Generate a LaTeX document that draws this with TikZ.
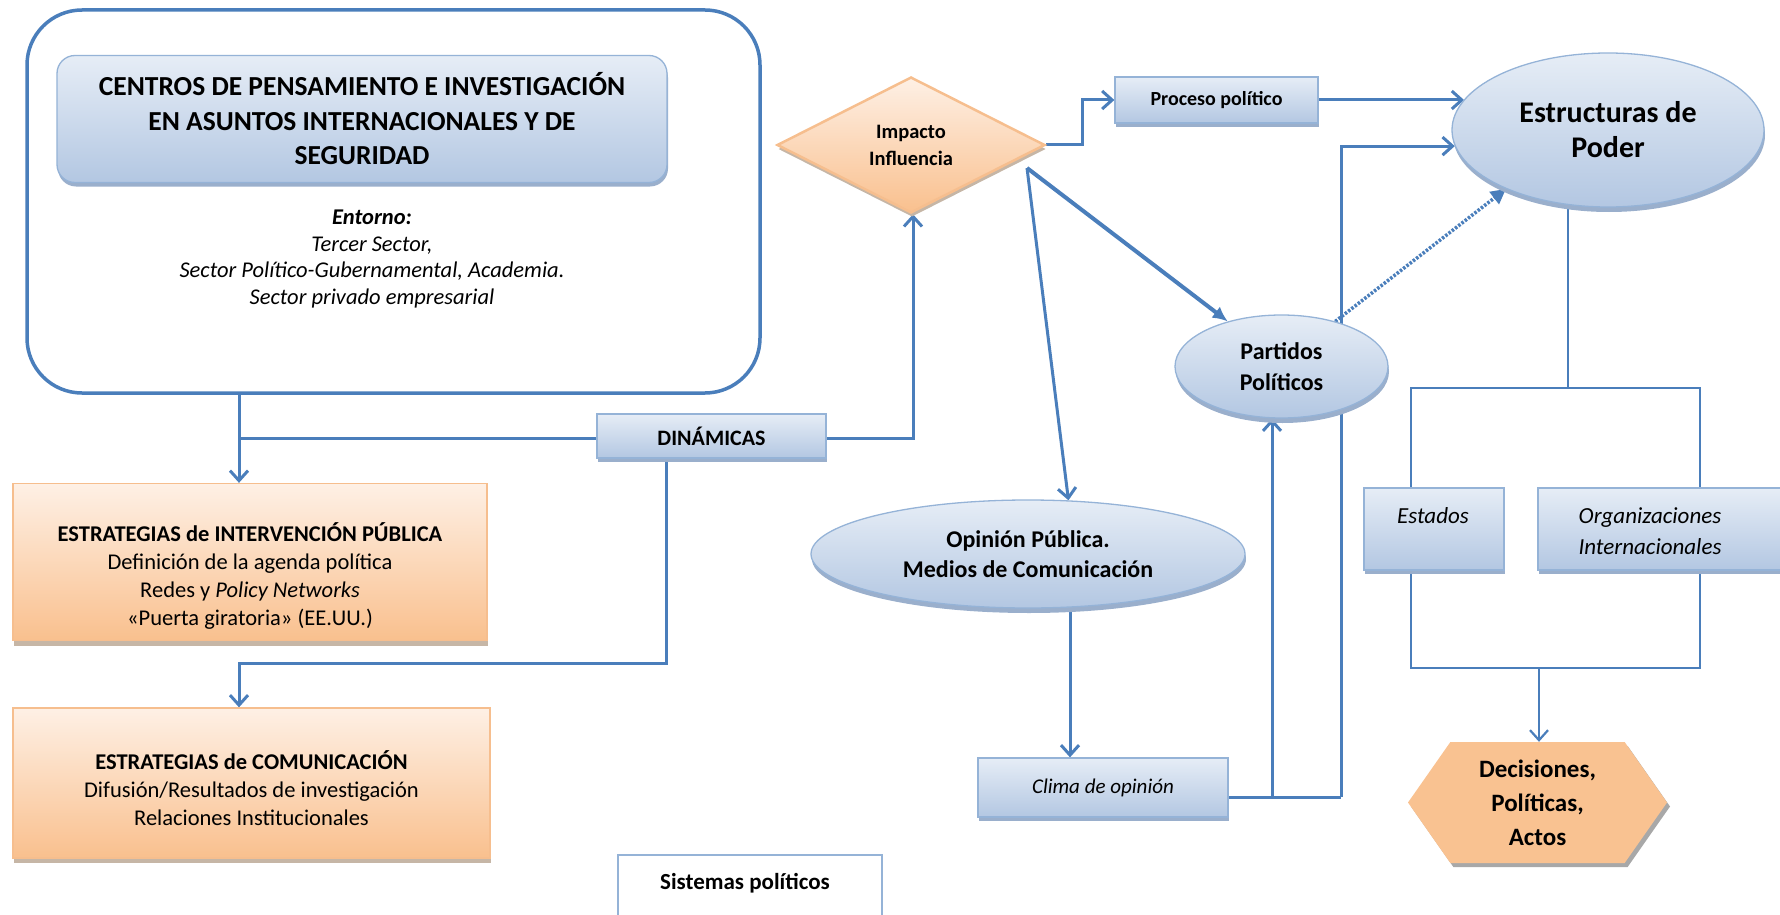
\documentclass[tikz,border=0pt]{standalone}
\usepackage{fontspec}
\setmainfont{Carlito}
\usetikzlibrary{shapes.geometric,shapes.symbols,arrows.meta,shadows,calc}
\pgfdeclarelayer{background}
\pgfsetlayers{background,main}
\definecolor{lineblue}{HTML}{4A7EBB}
\definecolor{bordblue}{HTML}{95B3D7}
\definecolor{fillTop}{HTML}{E6EDF6}
\definecolor{fillBot}{HTML}{B3C7E2}
\definecolor{shblue}{HTML}{9AAFCC}
\definecolor{orTop}{HTML}{FEF0E5}
\definecolor{orBot}{HTML}{F9C08E}
\definecolor{orBord}{HTML}{F6BE8E}
\definecolor{hexfill}{HTML}{F9C291}
\definecolor{shor}{HTML}{C6B6A6}
\definecolor{shgray}{HTML}{A8A8A8}
\tikzset{
  conn/.style={draw=lineblue, line width=3pt},
  tconn/.style={draw=lineblue, line width=2.2pt},
  arr/.style={-{Straight Barb[length=10pt,width=18pt]}},
  bluebox/.style={draw=bordblue, line width=1.3pt, top color=fillTop, bottom color=fillBot,
    drop shadow={shadow xshift=1pt, shadow yshift=-4pt, fill=shblue, opacity=1}, inner sep=0pt},
  blueell/.style={ellipse, draw=bordblue, line width=1.3pt, top color=fillTop, bottom color=fillBot,
    drop shadow={shadow xshift=1pt, shadow yshift=-5pt, fill=shblue, opacity=1}, inner sep=0pt},
  orbox/.style={draw=orBord, line width=1.3pt, top color=orTop, bottom color=orBot,
    drop shadow={shadow xshift=1pt, shadow yshift=-5pt, fill=shor, opacity=1}, inner sep=0pt},
  txt/.style={align=center, inner sep=0pt}
}
\begin{document}
\begin{tikzpicture}[x=1pt,y=-1pt]
\useasboundingbox (0,0) rectangle (1780,915);

% outer box
\node[draw=lineblue, line width=3.5pt, rounded corners=55pt, minimum width=733pt, minimum height=383pt, fill=white] (outer) at (393.5,201.5) {};
\node[bluebox, rounded corners=18pt, minimum width=610pt, minimum height=127pt, align=center,
  font=\fontsize{27.5}{34.5}\selectfont\bfseries] (title) at (362,119)
  {CENTROS DE PENSAMIENTO E INVESTIGACIÓN\\EN ASUNTOS INTERNACIONALES Y DE\\SEGURIDAD};
\node[txt, font=\fontsize{22.5}{26.7}\selectfont\itshape] (ent) at (372,259)
  {\textbf{Entorno:}\\Tercer Sector,\\Sector Político-Gubernamental, Academia.\\Sector privado empresarial};

% strategies
\node[orbox, minimum width=474pt, minimum height=157pt] (estr1) at (250,562) {};
\node[txt, font=\fontsize{22.5}{28}\selectfont] (estr1t) at (250,576)
  {\textbf{ESTRATEGIAS de INTERVENCIÓN PÚBLICA}\\Definición de la agenda política\\Redes y \textit{Policy Networks}\\«Puerta giratoria» (EE.UU.)};
\node[orbox, minimum width=477pt, minimum height=150pt] (estr2) at (251.5,783) {};
\node[txt, font=\fontsize{22.5}{28}\selectfont] (estr2t) at (251.5,788)
  {\textbf{ESTRATEGIAS de COMUNICACIÓN}\\Difusión/Resultados de investigación\\Relaciones Institucionales};

\node[bluebox, minimum width=229pt, minimum height=44pt, font=\fontsize{22}{26}\selectfont\bfseries] (din) at (711.5,436) {DINÁMICAS};

\node[draw=bordblue, line width=1.2pt, fill=white, minimum width=264pt, minimum height=100pt] (sist) at (750,905) {};
\node[txt, font=\fontsize{23}{26}\selectfont\bfseries] (sistt) at (745,883) {Sistemas políticos};

% right part
\node[diamond, aspect=2, inner sep=0pt, minimum width=268pt, minimum height=136pt, draw=orBord, line width=2.5pt,
  top color=orTop, bottom color=orBot, drop shadow={shadow xshift=1pt, shadow yshift=-4pt, fill=shor, opacity=1},
  align=center, font=\fontsize{20.5}{27}\selectfont\bfseries] (imp) at (911,145) {Impacto\\Influencia};

\node[bluebox, minimum width=203pt, minimum height=46pt, font=\fontsize{20}{24}\selectfont\bfseries] (proc) at (1216.5,100) {Proceso político};

\node[blueell, minimum width=312pt, minimum height=154pt, align=center, font=\fontsize{30}{35}\selectfont\bfseries] (est) at (1608,130) {Estructuras de\\Poder};

\node[blueell, minimum width=213pt, minimum height=103pt, align=center, font=\fontsize{24}{31}\selectfont\bfseries] (par) at (1281.5,366.5) {Partidos\\Políticos};

\node[blueell, minimum width=434pt, minimum height=108pt, align=center, font=\fontsize{24}{30}\selectfont\bfseries] (op) at (1028,554) {Opinión Pública.\\Medios de Comunicación};

\node[bluebox, minimum width=250pt, minimum height=59pt, font=\fontsize{21}{25}\selectfont\itshape] (clima) at (1103,787.5) {Clima de opinión};

\node[bluebox, minimum width=140pt, minimum height=82pt] (estados) at (1434,529) {};
\node[txt, font=\fontsize{23}{31}\selectfont\itshape] (estadost) at (1433,516) {Estados};
\node[bluebox, minimum width=248pt, minimum height=82pt] (org) at (1662,529) {};
\node[txt, font=\fontsize{23}{31}\selectfont\itshape] (orgt) at (1650,531) {Organizaciones\\Internacionales};

\node[signal, signal to=west and east, signal pointer angle=110, minimum width=259pt, minimum height=121pt, inner sep=0pt,
  fill=hexfill, drop shadow={shadow xshift=3pt, shadow yshift=-4pt, fill=shgray, opacity=1},
  align=center, font=\fontsize{25}{34}\selectfont\bfseries] (hex) at (1537.5,802.5) {Decisiones,\\Políticas,\\Actos};

% connectors
\coordinate (cA) at (239,438);
\coordinate (cB) at (666,663);
\coordinate (cC) at (913,438);
\coordinate (cD) at (1082,143);
\coordinate (cE) at (1341,797);
\coordinate (cF) at (1272,797);
\coordinate (cG) at (1027,168);
\coordinate (cT) at (1568,388);
\coordinate (cL) at (1411,388);
\coordinate (cR) at (1700,388);
\coordinate (cM) at (1539,668);

\begin{pgfonlayer}{background}
\draw[conn] (outer.south -| cA) -- (cA);
\draw[conn,arr] (cA) -- (cA |- estr1.north);
\draw[conn] (cA) -- (cA -| din.west);
\draw[conn,arr] (din.south -| cB) -- (cB) -- (cB -| cA) -- (cA |- estr2.north);
\draw[conn,arr] (din.east |- cA) -- (cC) -- (cC |- imp.south);
\draw[conn,arr] (imp.east) -- (imp.east -| cD) -- (cD |- proc.west) -- (proc.west);
\draw[conn,arr] (proc.east) -- (proc.east -| est.168);
\draw[conn] (clima.east |- cE) -- (cE);
\draw[conn,arr] (cE) -- (cE |- est.186) -- (est.186);
\draw[conn,arr] (cF) -- (cF |- par.south);
\draw[draw=lineblue, line width=3.5pt, dash pattern=on 2.5pt off 1.6pt, -{Triangle[length=15pt,width=15pt]}] (par.40) -- (est.210);
\draw[draw=lineblue, line width=4pt, -{Latex[length=15pt,width=14pt]}] (cG) -- (par.140);
\draw[conn,arr] (cG) -- (op.53);
\draw[conn,arr] ([xshift=42pt]op.south) -- ([xshift=42pt]op.south |- clima.north);
\draw[tconn] (est.south -| cT) -- (cT);
\draw[tconn] (cL |- estados.north) -- (cL) -- (cR) -- (cR |- org.north);
\draw[tconn] (cL |- estados.south) -- (cL |- cM) -- (cR |- cM) -- (cR |- org.south);
\draw[tconn,arr] (cM) -- (cM |- hex.north);
\end{pgfonlayer}
\end{tikzpicture}
\end{document}
